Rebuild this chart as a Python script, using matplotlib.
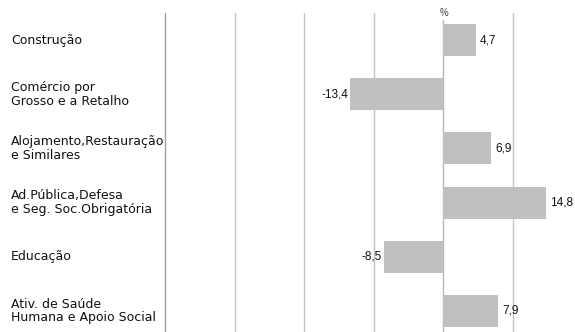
import numpy as np
import matplotlib
matplotlib.use("Agg")
import matplotlib.pyplot as plt
import matplotlib.transforms as mtransforms

# sectors and year-on-year change (%)
sectors = [
    "Construção",
    "Comércio por\nGrosso e a Retalho",
    "Alojamento,Restauração\ne Similares",
    "Ad.Pública,Defesa\ne Seg. Soc.Obrigatória",
    "Educação",
    "Ativ. de Saúde\nHumana e Apoio Social",
]
values = [4.7, -13.4, 6.9, 14.8, -8.5, 7.9]
grid_ticks = [-40, -30, -20, -10, 0, 10]

W, H = 575, 332
fig = plt.figure(figsize=(W / 100, H / 100), dpi=100)

# axes box in pixels: left=165, right=575, top=13, bottom=338
left, right, top, bottom = 165, 575, 13, 338
ax = fig.add_axes([left / W, (H - bottom) / H, (right - left) / W, (bottom - top) / H])

bar_col = "#c0c0c0"
grid_col = "#c4c4c4"
txt_col = "#111111"

y = np.arange(len(sectors))
ax.barh(y, values, height=0.59, color=bar_col, zorder=2)

ax.set_xlim(-40, 18.9)
ax.set_ylim(len(sectors) - 0.5, -0.5)

for g in grid_ticks:
    if g == 0:
        # zero line starts a little below the top to leave room for the % sign
        ax.axvline(g, ymax=(bottom - 20) / (bottom - top), color="#b8b8b8", lw=1.0, zorder=1)
    elif g != -40:
        ax.axvline(g, color=grid_col, lw=1.0, zorder=1)

for s in ["top", "right", "bottom"]:
    ax.spines[s].set_visible(False)
ax.spines["left"].set_color("#a0a0a0")
ax.spines["left"].set_linewidth(1.0)
ax.set_xticks([])
ax.set_yticks([])

# value labels next to each bar
for yi, v in zip(y, values):
    lab = f"{v:.1f}".replace(".", ",")
    if v >= 0:
        ax.annotate(lab, (v, yi), xytext=(2.5, 0), textcoords="offset points",
                    ha="left", va="center", fontsize=8.5, color=txt_col,
                    family="Liberation Sans")
    else:
        ax.annotate(lab, (v, yi), xytext=(-1.5, 0), textcoords="offset points",
                    ha="right", va="center", fontsize=8.5, color=txt_col,
                    family="Liberation Sans")

# category labels on the far left
trans = mtransforms.blended_transform_factory(fig.transFigure, ax.transData)
for yi, name in zip(y, sectors):
    ax.text(11 / W, yi, name, transform=trans, ha="left", va="center",
            fontsize=9, color=txt_col, linespacing=1.05, family="DejaVu Sans")

# unit marker above the zero line
pct_trans = mtransforms.blended_transform_factory(ax.transData, fig.transFigure)
ax.text(0.1, 1.0 - 13.5 / H, "%", transform=pct_trans,
        ha="center", va="center", fontsize=7, color="#404040",
        family="Liberation Sans")

fig.savefig("out.png", dpi=100)
